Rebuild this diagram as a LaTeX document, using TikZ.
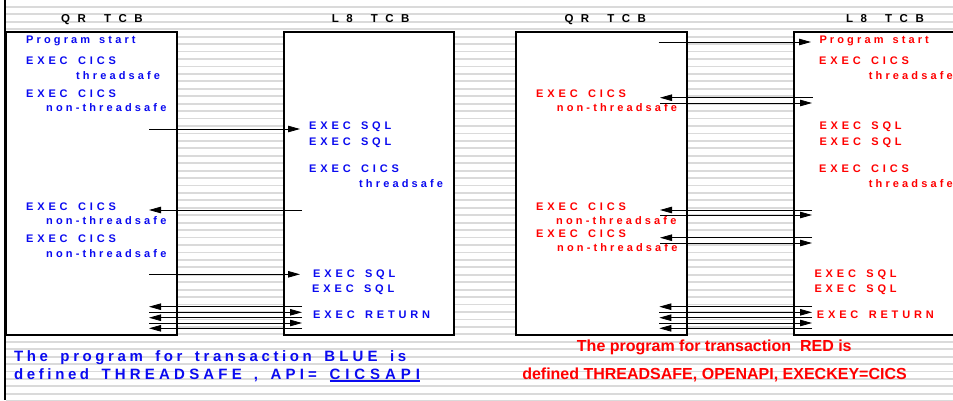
\documentclass[tikz,border=0pt]{standalone}
\usepackage{fontspec}
\setmainfont{Liberation Sans}
\newfontfamily\lsl[LetterSpace=28.5,WordSpace=1.45]{Liberation Sans}
\newfontfamily\lsc[LetterSpace=35,WordSpace=1.5]{Liberation Sans}
\newfontfamily\lsh[LetterSpace=65,WordSpace=1.7]{Liberation Sans}
\newfontfamily\lbl[LetterSpace=24,WordSpace=1.6]{Liberation Sans}
\newfontfamily\lbc[LetterSpace=28,WordSpace=1.45]{Liberation Sans}
\newfontfamily\lbw[LetterSpace=33,WordSpace=1.45]{Liberation Sans}
\usetikzlibrary{arrows.meta}
\definecolor{cblue}{RGB}{10,10,240}
\definecolor{cred}{RGB}{255,0,0}
\definecolor{stripe}{RGB}{218,218,218}
\newcommand\thickul[1]{\setbox0\hbox{#1}\rlap{\rule[-2.6pt]{\wd0}{1.7pt}}\box0}
\begin{document}
\begin{tikzpicture}[x=1pt,y=-1pt,
  box/.style={draw=black,line width=2pt,fill=white,inner sep=0pt,anchor=north west},
  stripeline/.style={draw=stripe,line width=1.8pt},
  hdr/.style={anchor=base west,inner sep=0pt,font=\lsh\bfseries\fontsize{11.5}{13}\selectfont},
  sml/.style={anchor=base west,inner sep=0pt,font=\lsl\bfseries\fontsize{11}{13}\selectfont},
  smc/.style={anchor=base west,inner sep=0pt,font=\lsc\bfseries\fontsize{11}{13}\selectfont},
  bt/.style={sml,text=cblue},
  bc/.style={smc,text=cblue},
  rt/.style={sml,text=cred},
  rc/.style={smc,text=cred},
  bigb/.style={anchor=base west,inner sep=0pt,text=cblue,font=\lbl\bfseries\fontsize{15}{18}\selectfont},
  bigr/.style={anchor=base,inner sep=0pt,text=cred,font=\bfseries\fontsize{16}{19}\selectfont},
  conn/.style={draw=black,line width=0.8pt,-{Triangle[length=12pt,width=6.5pt]}}]
\useasboundingbox (0,0) rectangle (953,400);
\clip (0,0) rectangle (953,400);
\fill[white] (0,0) rectangle (953,400);
% background stripes
\foreach \k in {0,...,54} {
  \draw[stripeline] (6,{-0.5+7.44*\k}) -- (953,{-0.5+7.44*\k});
}
\draw[line width=2pt] (5,0) -- (5,400);
% boxes
\node[box,minimum width=171pt,minimum height=303pt] (qrA) at (5,31) {};
\node[box,minimum width=170pt,minimum height=303pt] (l8A) at (283,31) {};
\node[box,minimum width=170.7pt,minimum height=303pt] (qrB) at (515.3,31) {};
\node[box,minimum width=185pt,minimum height=303pt] (l8B) at (792.7,31) {};
% headers
\node[hdr] (h1) at (61,22.7) {QR TCB};
\node[hdr] (h2) at (331.7,22.7) {L8 TCB};
\node[hdr] (h3) at (564.3,22.7) {QR TCB};
\node[hdr] (h4) at (846,22.7) {L8 TCB};
% left panel texts
\node[bt] (p1) at (26,43.3) {Program start};
\node[bc] (p2) at (26,64) {EXEC CICS};
\node[bt] (p3) at (76,79.3) {threadsafe};
\node[bc] (p4) at (26,97.3) {EXEC CICS};
\node[bt] (p5) at (46,111.7) {non-threadsafe};
\node[bc] (p6) at (309,129.3) {EXEC SQL};
\node[bc] (p7) at (309,145.3) {EXEC SQL};
\node[bc] (p8) at (309,172.3) {EXEC CICS};
\node[bt] (p9) at (359,187.3) {threadsafe};
\node[bc] (p10) at (26,210) {EXEC CICS};
\node[bt] (p11) at (46,224.3) {non-threadsafe};
\node[bc] (p12) at (26,242.3) {EXEC CICS};
\node[bt] (p13) at (46,257.3) {non-threadsafe};
\node[bc] (p14) at (313,277) {EXEC SQL};
\node[bc] (p15) at (312,292.3) {EXEC SQL};
\node[bc] (p16) at (313,318.3) {EXEC RETURN};
\node[bigb] (p17) at (14,361.7) {The program for transaction {\lbc BLUE} is};
\node[bigb] (p18) at (14,379.3) {defined {\lbc THREADSAFE ,} {\lbc API=}};
\node[bigb] (p19) at (329.3,379.3) {\lbw\thickul{CICSAPI}};
% right panel texts
\node[rt] (r1) at (819.3,43.3) {Program start};
\node[rc] (r2) at (819,64) {EXEC CICS};
\node[rt] (r3) at (868.7,79.3) {threadsafe};
\node[rc] (r4) at (536,97.3) {EXEC CICS};
\node[rt] (r5) at (556.7,111.7) {non-threadsafe};
\node[rc] (r6) at (819.3,129.3) {EXEC SQL};
\node[rc] (r7) at (819.3,145.3) {EXEC SQL};
\node[rc] (r8) at (819,172.3) {EXEC CICS};
\node[rt] (r9) at (868.7,187.3) {threadsafe};
\node[rc] (r10) at (536,210) {EXEC CICS};
\node[rt] (r11) at (556,224.7) {non-threadsafe};
\node[rc] (r12) at (536,237.3) {EXEC CICS};
\node[rt] (r13) at (557,251.7) {non-threadsafe};
\node[rc] (r14) at (814.3,277.3) {EXEC SQL};
\node[rc] (r15) at (814.3,292.3) {EXEC SQL};
\node[rc] (r16) at (816.7,318.3) {EXEC RETURN};
\node[bigr] (r17) at (714.3,351) {The program for transaction\ \ RED is};
\node[bigr] (r18) at (714.5,379.3) {defined THREADSAFE, OPENAPI, EXECKEY=CICS};
% connectors
\foreach \n/\yy/\xa/\xb in {a1/129/149/300, a2/210/302/149, a3/274.3/149/300,
   a4/306.7/302/149, a5/312.3/149/302, a6/317.7/302/149, a7/323/149/302, a8/328.3/302/149,
   b1/42/658.7/811, b2/97.7/812.7/660, b3/103/660/812, b4/210/812/660, b5/215/660/812,
   b6/237.7/812/660, b7/243/660/812, b8/306.7/812/659.3, b9/312.3/659.3/812,
   b10/317.7/812/659.3, b11/323/659.3/812, b12/328.3/812/659.3} {
  \coordinate (\n s) at (\xa,\yy);
  \coordinate (\n e) at (\xb,\yy);
  \draw[conn] (\n s) -- (\n e);
}
\end{tikzpicture}
\end{document}
